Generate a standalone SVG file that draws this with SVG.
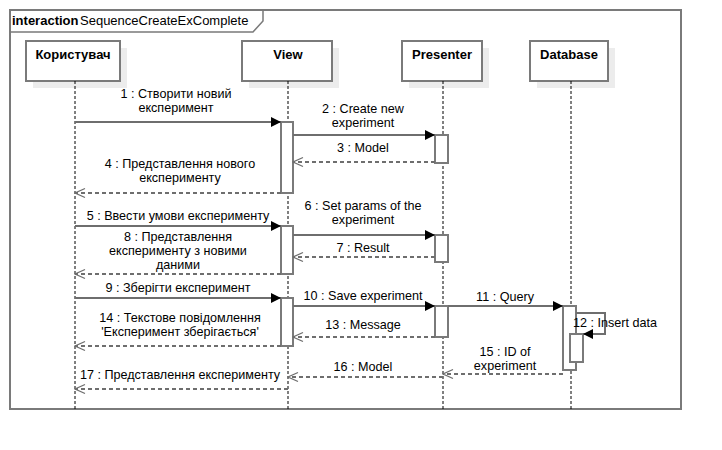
<svg xmlns="http://www.w3.org/2000/svg" width="722" height="450" viewBox="0 0 722 450">
<style>
.frame{fill:#fff;stroke:#7a7a7a;stroke-width:2}
.box{fill:#fff;stroke:#7a7a7a;stroke-width:2}
.shadow{fill:#ececec;stroke:none}
.life{stroke:#000;stroke-width:1;stroke-dasharray:3 2;fill:none}
.act{fill:#fff;stroke:#7a7a7a;stroke-width:2}
.name{font-family:"Liberation Sans",Arial,sans-serif;font-size:13px;font-weight:bold;fill:#000;text-anchor:middle}
.lbl{font-family:"Liberation Sans",Arial,sans-serif;font-size:12.6px;fill:#000;text-anchor:middle}
.hdr{font-family:"Liberation Sans",Arial,sans-serif;font-size:13px;fill:#000}
.msg{stroke:#6e6e6e;stroke-width:2;fill:none;marker-end:url(#fill)}
.ret{stroke:#6e6e6e;stroke-width:2;fill:none;stroke-dasharray:4 3;marker-end:url(#open)}
</style>
<defs>
<marker id="fill" viewBox="0 0 10 10" refX="10" refY="5" markerWidth="11" markerHeight="10" markerUnits="userSpaceOnUse" orient="auto"><path d="M0,0 L10,5 L0,10 z" fill="#000"/></marker>
<marker id="open" viewBox="-1 -1 12 12" refX="10" refY="5" markerWidth="12" markerHeight="12" markerUnits="userSpaceOnUse" orient="auto"><path d="M0,0.5 L10,5 L0,9.5" fill="none" stroke="#6e6e6e" stroke-width="1.3"/></marker>
</defs>
<rect width="722" height="450" fill="#fff"/>
<g id="frame">
<rect class="frame" x="10" y="10" width="671" height="399"/>
<path d="M10,32 L253,32 L263,21 L263,10" fill="none" stroke="#7a7a7a" stroke-width="1.5"/>
<text class="hdr" x="12" y="25"><tspan font-weight="bold">interaction</tspan><tspan x="80">SequenceCreateExComplete</tspan></text>
</g>
<g id="user">
<rect class="shadow" x="33" y="48" width="94" height="40"/>
<rect class="box" x="26" y="41" width="94" height="40"/>
<text class="name" x="73" y="59">Користувач</text>
<line class="life" x1="75" y1="81" x2="75" y2="409"/>
</g>
<g id="view">
<rect class="shadow" x="249" y="48" width="90" height="40"/>
<rect class="box" x="242" y="41" width="90" height="40"/>
<text class="name" x="288" y="59">View</text>
<line class="life" x1="288" y1="81" x2="288" y2="409"/>
<rect class="act" x="281" y="122" width="12" height="71"/>
<rect class="act" x="281" y="226" width="12" height="48"/>
<rect class="act" x="281" y="298" width="12" height="48"/>
</g>
<g id="presenter">
<rect class="shadow" x="409" y="48" width="80" height="40"/>
<rect class="box" x="402" y="41" width="80" height="40"/>
<text class="name" x="442" y="59">Presenter</text>
<line class="life" x1="443" y1="81" x2="443" y2="409"/>
<rect class="act" x="435" y="135" width="13" height="28"/>
<rect class="act" x="435" y="235" width="13" height="27"/>
<rect class="act" x="435" y="306" width="13" height="31"/>
</g>
<g id="database">
<rect class="shadow" x="537" y="48" width="78" height="40"/>
<rect class="box" x="530" y="41" width="78" height="40"/>
<text class="name" x="569" y="59">Database</text>
<line class="life" x1="571" y1="81" x2="571" y2="409"/>
<rect class="act" x="563" y="306" width="13" height="64"/>
<rect class="act" x="570" y="334" width="13" height="28"/>
</g>
<g id="connectors">
<line class="msg" x1="75" y1="122" x2="281" y2="122"/>
<text class="lbl" x="176" y="97.5">1 : Створити новий</text>
<text class="lbl" x="176" y="111.5">експеримент</text>
<line class="msg" x1="293" y1="135" x2="435" y2="135"/>
<text class="lbl" x="363" y="112.5">2 : Create new</text>
<text class="lbl" x="363" y="126.5">experiment</text>
<line class="ret" x1="435" y1="162" x2="293" y2="162"/>
<text class="lbl" x="363" y="152">3 : Model</text>
<line class="ret" x1="281" y1="193" x2="75" y2="193"/>
<text class="lbl" x="180" y="167.5">4 : Представлення нового</text>
<text class="lbl" x="180" y="181.5">експерименту</text>
<line class="msg" x1="75" y1="226" x2="281" y2="226"/>
<text class="lbl" x="178" y="220">5 : Ввести умови експерименту</text>
<line class="msg" x1="293" y1="235" x2="435" y2="235"/>
<text class="lbl" x="363" y="209.5">6 : Set params of the</text>
<text class="lbl" x="363" y="223.5">experiment</text>
<line class="ret" x1="435" y1="257" x2="293" y2="257"/>
<text class="lbl" x="363" y="252">7 : Result</text>
<line class="ret" x1="281" y1="274" x2="75" y2="274"/>
<text class="lbl" x="178" y="241">8 : Представлення</text>
<text class="lbl" x="178" y="255">експерименту з новими</text>
<text class="lbl" x="178" y="269">даними</text>
<line class="msg" x1="75" y1="298" x2="281" y2="298"/>
<text class="lbl" x="178" y="292">9 : Зберігти експеримент</text>
<line class="msg" x1="293" y1="306" x2="435" y2="306"/>
<text class="lbl" x="363" y="300">10 : Save experiment</text>
<line class="msg" x1="448" y1="306" x2="563" y2="306"/>
<text class="lbl" x="505" y="301">11 : Query</text>
<polyline class="msg" points="576,313 605,313 605,334 583,334"/>
<text class="lbl" x="615" y="327">12 : Insert data</text>
<line class="ret" x1="435" y1="337" x2="293" y2="337"/>
<text class="lbl" x="363" y="329">13 : Message</text>
<line class="ret" x1="281" y1="346" x2="75" y2="346"/>
<text class="lbl" x="180" y="321.5">14 : Текстове повідомлення</text>
<text class="lbl" x="180" y="335.5">'Експеримент зберігається'</text>
<line class="ret" x1="563" y1="374" x2="443" y2="374"/>
<text class="lbl" x="505" y="355.5">15 : ID of</text>
<text class="lbl" x="505" y="369.5">experiment</text>
<line class="ret" x1="443" y1="377" x2="288" y2="377"/>
<text class="lbl" x="363" y="371">16 : Model</text>
<line class="ret" x1="288" y1="389" x2="75" y2="389"/>
<text class="lbl" x="180" y="379">17 : Представлення експерименту</text>
</g>
</svg>
